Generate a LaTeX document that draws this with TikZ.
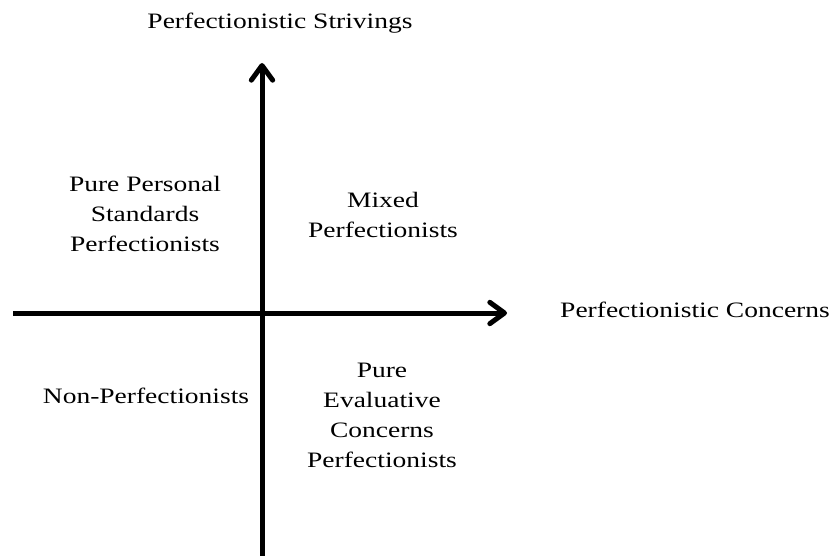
\documentclass[tikz,border=0pt]{standalone}
\usepackage{fontspec}
\setmainfont[FakeStretch=1.25]{Liberation Serif}
\usetikzlibrary{arrows.meta,positioning}
\definecolor{AxisBlack}{HTML}{000000}

\begin{document}
\begin{tikzpicture}[x=0.75pt,y=-0.75pt,
  font=\fontsize{16.5}{22.5}\selectfont,
  axis/.style={draw=AxisBlack,line width=3.75pt,-{Straight Barb[round,length=11pt,width=16pt]}},
  quad/.style={align=center,inner sep=0pt}]
  \useasboundingbox (0,0) rectangle (838,556);
  % axes
  \coordinate (sBot) at (262,556);
  \coordinate (sTop) at (262,63);
  \coordinate (cLeft) at (13,313);
  \coordinate (cRight) at (507,313);
  \draw[axis] (sBot) -- (sTop);
  \draw[axis] (cLeft) -- (cRight);
  % axis titles
  \node[anchor=base] (striv) at (280,29) {Perfectionistic Strivings};
  \node[anchor=base] (conc) at (695,317) {Perfectionistic Concerns};
  % quadrants
  \node[quad] (pps) at (145,214) {Pure Personal\\Standards\\Perfectionists};
  \node[quad] (mixed) at (383,215) {Mixed\\Perfectionists};
  \node[anchor=base] (nonp) at (146,403) {Non-Perfectionists};
  \node[quad] (pec) at (382,415) {Pure\\Evaluative\\Concerns\\Perfectionists};
\end{tikzpicture}
\end{document}
